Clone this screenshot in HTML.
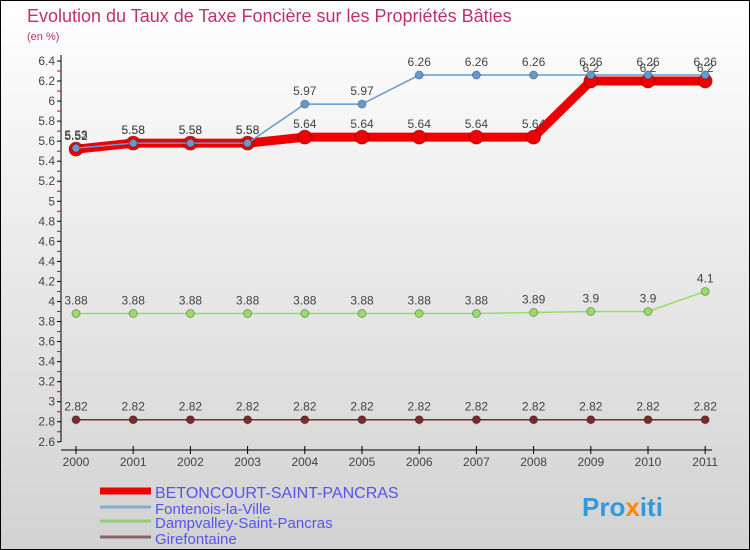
<!DOCTYPE html>
<html><head><meta charset="utf-8"><style>
body{margin:0;}
svg{display:block;font-family:"Liberation Sans",sans-serif;}
</style></head><body>
<svg id="chart" width="750" height="550">
<defs><linearGradient id="bg" x1="0" y1="0" x2="0" y2="1"><stop offset="0" stop-color="#ffffff"/><stop offset="1" stop-color="#d2d2d2"/></linearGradient></defs>
<rect x="0.5" y="0.5" width="749" height="549" fill="url(#bg)" stroke="#000"/>
<text x="27" y="22" font-size="18" fill="#c03070">Evolution du Taux de Taxe Foncière sur les Propriétés Bâties</text>
<text x="27" y="40" font-size="11" fill="#c03070">(en %)</text>
<g id="axes"></g><g id="series"></g><g id="legend"></g>
<text x="582" y="516" font-size="26" font-weight="bold" fill="#3399dd">Pro<tspan fill="#ff8800">x</tspan>iti</text>
</svg>
<script>
const years=[2000,2001,2002,2003,2004,2005,2006,2007,2008,2009,2010,2011];
const yTicks=[2.6,2.8,3,3.2,3.4,3.6,3.8,4,4.2,4.4,4.6,4.8,5,5.2,5.4,5.6,5.8,6,6.2,6.4];
const betoncourt=[5.52,5.58,5.58,5.58,5.64,5.64,5.64,5.64,5.64,6.2,6.2,6.2];
const fontenois=[5.53,5.58,5.58,5.58,5.97,5.97,6.26,6.26,6.26,6.26,6.26,6.26];
const dampvalley=[3.88,3.88,3.88,3.88,3.88,3.88,3.88,3.88,3.89,3.9,3.9,4.1];
const girefontaine=[2.82,2.82,2.82,2.82,2.82,2.82,2.82,2.82,2.82,2.82,2.82,2.82];
const seriesNames=["BETONCOURT-SAINT-PANCRAS","Fontenois-la-Ville","Dampvalley-Saint-Pancras","Girefontaine"];
const NS="http://www.w3.org/2000/svg";
const x=i=>76+i*57.2;
const y=v=>61+(6.4-v)*100.2;
function mk(t,a,p){const e=document.createElementNS(NS,t);for(const k in a)e.setAttribute(k,a[k]);p.appendChild(e);return e;}
const ax=document.getElementById('axes');
let l=mk('line',{x1:61,y1:55,x2:61,y2:442,stroke:'#000'},ax);


l=mk('line',{x1:61,y1:450,x2:712,y2:450,stroke:'#000'},ax);


yTicks.forEach((v,i)=>{
  mk('line',{x1:57,y1:y(v),x2:61,y2:y(v),stroke:'#000'},ax);
  if(i<yTicks.length-1)mk('line',{x1:57,y1:y(v+0.1),x2:61,y2:y(v+0.1),stroke:'#e00'},ax);
  const t=mk('text',{x:55,y:y(v)+4,'font-size':12,'text-anchor':'end',fill:'#444'},ax);
  t.textContent=String(Math.round(v*10)/10);
  
  
});
years.forEach((yr,i)=>{
  mk('line',{x1:x(i),y1:446,x2:x(i),y2:454,stroke:'#000'},ax);
  const t=mk('text',{x:x(i),y:466,'font-size':12,'text-anchor':'middle',fill:'#444'},ax);
  t.textContent=yr;
  
  
});
const sg=document.getElementById('series');
function draw(vals,color,w,r,name,labels){
  const g=mk('g',{},sg);
  
  
  mk('polyline',{points:vals.map((v,i)=>x(i)+','+y(v)).join(' '),fill:'none',stroke:color,'stroke-width':w,'stroke-linejoin':'round'},g);
  vals.forEach((v,i)=>{
    const c=mk('circle',{cx:x(i),cy:y(v),r:r,fill:color,stroke:'rgba(0,0,0,0.3)'},g);
    
    
    if(labels){const t=mk('text',{x:x(i),y:y(v)-9,'font-size':12,'text-anchor':'middle',fill:'#444'},g);t.textContent=String(v);
    
    }
  });
}
draw(girefontaine,'#7a2a2a',1.5,4,'girefontaine-series',true);
draw(dampvalley,'#99dd66',1.5,4,'dampvalley-series',true);
draw(betoncourt,'#ee0000',9,7,'betoncourt-series',true);
draw(fontenois,'#6699cc',1.5,4,'fontenois-series',true);
const lg=document.getElementById('legend');
const lc=['#ee0000','#88aacc','#99cc77','#886666'],lw=[7,3,3,3],ly=[492,508,522,538];
seriesNames.forEach((n,i)=>{
  const r=mk('rect',{x:100,y:ly[i]-lw[i]/2-1,width:51,height:lw[i],fill:lc[i]},lg);
  
  
  const t=mk('text',{x:155,y:ly[i]+6,'font-size':i==0?16:15,fill:'#5555ee'},lg);
  t.textContent=n;
  
  
});
</script>
</body></html>
